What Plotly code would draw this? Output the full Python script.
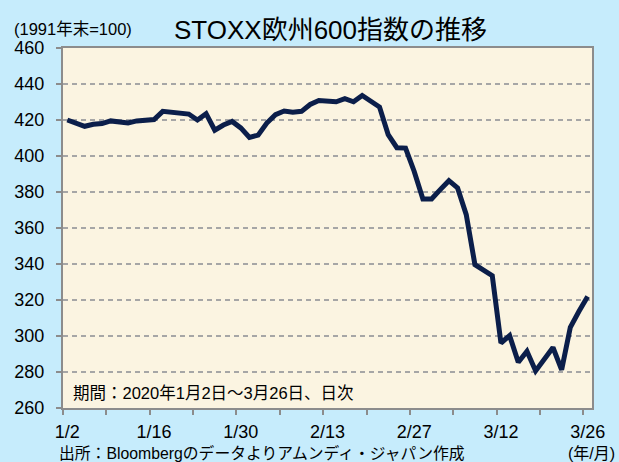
import plotly.graph_objects as go

# Trading days (Jan 2 - Mar 26, 2020)
dates = ["1/2","1/3","1/6","1/7","1/8","1/9","1/10","1/13","1/14","1/15",
         "1/16","1/17","1/20","1/21","1/22","1/23","1/24","1/27","1/28","1/29",
         "1/30","1/31","2/3","2/4","2/5","2/6","2/7","2/10","2/11","2/12",
         "2/13","2/14","2/17","2/18","2/19","2/20","2/21","2/24","2/25","2/26",
         "2/27","2/28","3/2","3/3","3/4","3/5","3/6","3/9","3/10","3/11",
         "3/12","3/13","3/16","3/17","3/18","3/19","3/20","3/23","3/24","3/25",
         "3/26"]
values = [420.0, 418.5, 416.5, 417.6, 418.0, 419.5, 419.0, 418.4, 419.5, 419.6,
          420.3, 424.8, 424.3, 423.8, 423.3, 420.0, 423.5, 414.3, 417.2, 419.2,
          415.6, 410.3, 411.6, 418.3, 423.0, 425.0, 424.3, 424.8, 428.6, 430.8,
          430.7, 430.1, 431.8, 430.1, 433.6, 430.0, 427.2, 411.8, 404.6, 404.4,
          391.4, 376.1, 376.1, 381.3, 386.3, 382.3, 367.4, 339.6, 336.5, 333.5,
          296.1, 300.2, 285.4, 291.5, 280.6, 286.8, 293.6, 281.2, 304.8, 313.7,
          322.0]
tick_labels = ["1/2","1/16","1/30","2/13","2/27","3/12","3/26"]
y_ticks = [260, 280, 300, 320, 340, 360, 380, 400, 420, 440, 460]

x_idx = list(range(len(dates)))
label_pos = [dates.index(t) for t in tick_labels]
minor_pos = [i - 0.5 for i in range(0, len(dates) + 1, 5)]

FONT = "Liberation Sans, Arial, Noto Sans CJK JP, sans-serif"

fig = go.Figure()
fig.add_trace(go.Scatter(
    x=x_idx, y=values, mode="lines",
    line=dict(color="#0B1E4A", width=5),
    hoverinfo="skip", showlegend=False,
))

fig.update_layout(
    width=619, height=462,
    paper_bgcolor="#C6ECFC",
    plot_bgcolor="#FBF4E1",
    margin=dict(l=63, r=27, t=48, b=54),
    font=dict(family=FONT, color="#000000"),
    xaxis=dict(
        range=[-0.5, len(dates) - 0.5],
        tickmode="array", tickvals=label_pos, ticktext=tick_labels,
        ticks="", tickfont=dict(size=18, family=FONT),
        ticklabelstandoff=6,
        showgrid=False, zeroline=False,
        showline=True, linecolor="#8C8C8C", linewidth=2, mirror=True,
        minor=dict(tickmode="array", tickvals=minor_pos, ticks="outside",
                   ticklen=5, tickwidth=2, tickcolor="#8C8C8C", showgrid=False),
        fixedrange=True,
    ),
    yaxis=dict(
        range=[260, 460],
        tickmode="array", tickvals=y_ticks,
        ticks="outside", ticklen=5, tickwidth=2, tickcolor="#8C8C8C",
        tickfont=dict(size=18, family=FONT),
        ticklabelstandoff=8,
        showgrid=True, gridcolor="#A6A6A6", griddash="5px,4px", gridwidth=1.5,
        zeroline=False,
        showline=True, linecolor="#8C8C8C", linewidth=2, mirror=True,
        fixedrange=True,
    ),
)

fig.add_annotation(text="STOXX欧州600指数の推移", xref="paper", yref="paper",
                   x=0, xshift=109, y=1.0, yshift=18, xanchor="left", yanchor="middle",
                   showarrow=False, font=dict(size=26, family=FONT))
fig.add_annotation(text="(1991年末=100)", xref="paper", yref="paper",
                   x=0, xshift=-51, y=1.0, yshift=19, xanchor="left", yanchor="middle",
                   showarrow=False, font=dict(size=16.5, family=FONT))
fig.add_annotation(text="期間：2020年1月2日～3月26日、日次", xref="paper", yref="paper",
                   x=0, xshift=8, y=0, yshift=15, xanchor="left", yanchor="middle",
                   showarrow=False, font=dict(size=16.5, family=FONT))
fig.add_annotation(text="出所：Bloombergのデータよりアムンディ・ジャパン作成", xref="paper", yref="paper",
                   x=0, xshift=-6, y=0, yshift=-45, xanchor="left", yanchor="middle",
                   showarrow=False, font=dict(size=15.8, family=FONT))
fig.add_annotation(text="(年/月)", xref="paper", yref="paper",
                   x=1, xshift=25, y=0, yshift=-45, xanchor="right", yanchor="middle",
                   showarrow=False, font=dict(size=16, family=FONT))

fig.write_html("out.html",
               config={"displayModeBar": False},
               post_script="document.body.style.margin='0';document.body.style.overflow='hidden';")
